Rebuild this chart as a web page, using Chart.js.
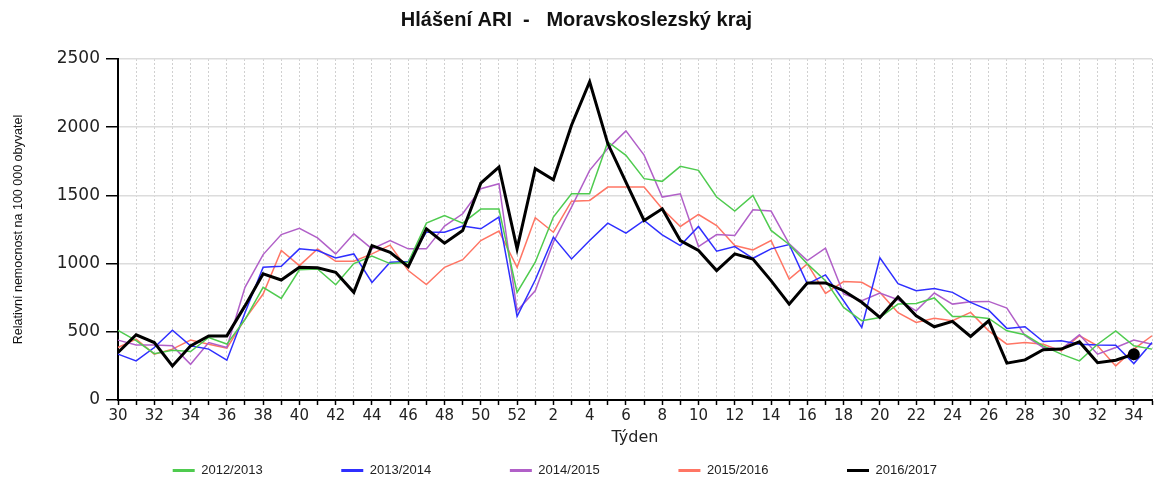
<!DOCTYPE html>
<html>
<head>
<meta charset="utf-8">
<script src="https://cdn.jsdelivr.net/npm/chart.js@4/dist/chart.umd.min.js"></script>
<style>
  html, body { margin: 0; padding: 0; background: #fff; }
  #wrap { width: 1154px; height: 482px; }
  canvas { display: block; }
</style>
</head>
<body>
<div id="wrap"><canvas id="c" width="1154" height="482"></canvas></div>
<script>
const weeks = ['30','31','32','33','34','35','36','37','38','39','40','41','42','43','44','45','46','47','48','49','50','51','52',
               '1','2','3','4','5','6','7','8','9','10','11','12','13','14','15','16','17','18','19','20','21','22','23','24','25','26','27','28','29','30','31','32','33','34','35'];

const s2012 = [510,435,340,365,355,458,410,590,826,745,955,960,845,1000,1055,1000,1010,1297,1353,1297,1400,1400,789,
               1010,1341,1512,1512,1892,1794,1623,1603,1713,1684,1488,1385,1500,1243,1140,998,875,679,581,605,703,708,748,613,613,598,507,478,397,336,287,409,507,397,373];
const s2013 = [336,287,385,512,397,373,292,640,973,980,1108,1096,1042,1071,862,1010,1015,1230,1230,1275,1255,1341,613,
               880,1194,1034,1169,1297,1223,1316,1211,1132,1272,1091,1125,1039,1108,1140,851,917,728,532,1042,853,801,818,789,716,659,525,537,429,434,409,404,402,267,421];
const s2014 = [439,404,404,397,262,421,385,826,1066,1213,1258,1189,1071,1218,1108,1169,1108,1108,1275,1365,1549,1586,654,
               801,1157,1414,1684,1843,1973,1795,1488,1512,1125,1213,1206,1395,1385,1145,1022,1113,777,728,784,735,654,784,703,721,723,674,471,385,373,478,336,385,439,409];
const s2015 = [385,446,336,373,439,409,380,593,777,1096,985,1108,1017,1017,1071,1135,949,846,973,1029,1169,1238,973,
               1336,1230,1458,1463,1561,1561,1561,1402,1272,1360,1279,1132,1100,1169,887,998,782,868,863,789,640,569,600,581,642,507,409,421,409,360,471,397,250,373,471];
const s2016 = [348,478,421,250,397,470,470,690,925,880,973,970,936,789,1132,1083,978,1255,1150,1243,1590,1708,1108,
               1696,1615,2015,2333,1880,1598,1316,1402,1169,1096,949,1071,1034,875,703,858,858,801,716,605,755,618,537,576,466,581,270,294,368,373,426,274,292,336,null];

const seriesNames = ['2012/2013','2013/2014','2014/2015','2015/2016','2016/2017'];
const yTicks = [0, 500, 1000, 1500, 2000, 2500];

const lastIdx = (arr) => { let k = -1; arr.forEach((v, i) => { if (v !== null) k = i; }); return k; };
const lastBlack = lastIdx(s2016);

const mk = (label, data, color, width, order) => ({
  label, data, borderColor: color, backgroundColor: color, borderWidth: width,
  pointRadius: 0, tension: 0, order, spanGaps: false
});

const datasets = [
  mk(seriesNames[0], s2012, '#4fcb4f', 1.5, 0),
  mk(seriesNames[1], s2013, '#2f2fff', 1.5, 0),
  mk(seriesNames[2], s2014, '#b160c8', 1.5, 0),
  mk(seriesNames[3], s2015, '#ff7564', 1.5, 0),
  Object.assign(mk(seriesNames[4], s2016, '#000000', 3, -1), {
    pointRadius: (ctx) => ctx.dataIndex === lastBlack ? 4.5 : 0,
    pointBackgroundColor: '#000', pointBorderColor: '#000', pointHoverRadius: 0
  })
];

new Chart(document.getElementById('c'), {
  type: 'line',
  data: { labels: weeks, datasets },
  options: {
    responsive: false,
    animation: false,
    events: [],
    layout: { padding: { left: 0, right: 1, top: 0, bottom: -5 } },
    plugins: {
      title: {
        display: true,
        text: 'Hlášení ARI  -   Moravskoslezský kraj',
        color: '#111',
        font: { family: 'Liberation Sans', size: 20, weight: 'bold', lineHeight: 1.2 },
        padding: { top: 8, bottom: 27 }
      },
      legend: {
        position: 'bottom',
        labels: {
          color: '#222',
          font: { family: 'Liberation Sans', size: 13 },
          boxWidth: 22,
          boxHeight: 3,
          padding: 10,
          sort: (a, b) => a.datasetIndex - b.datasetIndex,
          generateLabels: (chart) => {
            const items = Chart.defaults.plugins.legend.labels.generateLabels(chart);
            items.sort((a, b) => a.datasetIndex - b.datasetIndex);
            return items.map((it, i) => Object.assign({}, it, {
              text: it.text + (i < items.length - 1 ? ' '.repeat(19) : ' '.repeat(12)),
              fillStyle: it.strokeStyle,
              lineWidth: 0
            }));
          }
        }
      },
      tooltip: { enabled: false }
    },
    scales: {
      x: {
        type: 'category',
        offset: false,
        afterFit: (s) => { s.height = 54; },
        grid: {
          display: true, drawOnChartArea: true, drawTicks: true,
          color: '#d0d0d0', lineWidth: 1,
          tickLength: 5, tickColor: '#000', tickWidth: 1.5
        },
        border: { display: true, color: '#000', width: 2, dash: [2, 2] },
        ticks: {
          autoSkip: false, maxRotation: 0, minRotation: 0, padding: 2,
          color: '#222',
          font: { family: 'DejaVu Sans', size: 15 },
          callback: function(v, i) { return i % 2 === 0 ? this.getLabelForValue(v) : ''; }
        },
        title: {
          display: true, text: 'Týden', color: '#222',
          font: { family: 'DejaVu Sans', size: 16, lineHeight: 1.2 },
          padding: { top: 0, bottom: 7 }
        }
      },
      y: {
        min: 0, max: 2500,
        afterFit: (s) => { s.width = 118; },
        afterBuildTicks: (s) => { s.ticks = yTicks.map(v => ({ value: v })); },
        grid: {
          color: '#dcdcdc', lineWidth: 1.5,
          tickLength: 12, tickColor: '#000', tickWidth: 1.5
        },
        border: { display: true, color: '#000', width: 2 },
        ticks: {
          padding: 6, color: '#222',
          font: { family: 'DejaVu Sans', size: 17 },
          callback: (v) => String(v)
        },
        title: {
          display: true, text: 'Relativní nemocnost na 100 000 obyvatel', color: '#111',
          font: { family: 'Liberation Sans', size: 12.5, lineHeight: 1.2 },
          padding: { top: 11, bottom: 0 }
        }
      }
    }
  }
});
</script>
</body>
</html>
